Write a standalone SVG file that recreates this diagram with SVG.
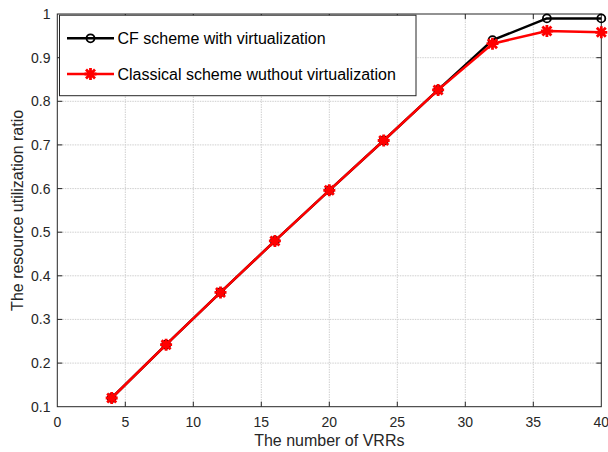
<svg xmlns="http://www.w3.org/2000/svg" xmlns:xlink="http://www.w3.org/1999/xlink" width="608" height="452" viewBox="0 0 608 452">
<style>
text{font-family:"Liberation Sans",Arial,sans-serif;fill:#262626}
.tick{font-size:14px}
.lab{font-size:16px}
.leg{font-size:16px;fill:#000}
.grid{stroke:#cfcfcf;stroke-width:1;stroke-dasharray:1.5 1}
.axis{stroke:#262626;stroke-width:1;fill:none}
.blk{stroke:#000;stroke-width:2.5;fill:none;stroke-linejoin:round}
.red{stroke:#ff0000;stroke-width:2.5;fill:none;stroke-linejoin:round}
</style>
<defs>
<g id="circ"><circle r="4" fill="none" stroke="#000" stroke-width="1.8"/></g>
<g id="star"><path d="M-6,0H6M0,-6V6M-4.5,-4.5L4.5,4.5M-4.5,4.5L4.5,-4.5" stroke="#ff0000" stroke-width="2.8" fill="none"/><circle r="3" fill="#ff0000"/></g>
</defs>
<rect width="608" height="452" fill="#fff"/>
<g id="grid">
<path class="grid" d="M125.3,14V406.7M193.3,14V406.7M261.3,14V406.7M329.3,14V406.7M397.3,14V406.7M465.3,14V406.7M533.3,14V406.7"/>
<path class="grid" d="M57.3,363.1H601.3M57.3,319.4H601.3M57.3,275.8H601.3M57.3,232.2H601.3M57.3,188.6H601.3M57.3,144.9H601.3M57.3,101.3H601.3M57.3,57.7H601.3"/>
</g>
<g id="axes">
<rect class="axis" x="57.3" y="14" width="544" height="392.7"/>
<path class="axis" d="M125.3,406.7v-5M193.3,406.7v-5M261.3,406.7v-5M329.3,406.7v-5M397.3,406.7v-5M465.3,406.7v-5M533.3,406.7v-5M125.3,14v5M193.3,14v5M261.3,14v5M329.3,14v5M397.3,14v5M465.3,14v5M533.3,14v5"/>
<path class="axis" d="M57.3,363.1h5M57.3,319.4h5M57.3,275.8h5M57.3,232.2h5M57.3,188.6h5M57.3,144.9h5M57.3,101.3h5M57.3,57.7h5M601.3,363.1h-5M601.3,319.4h-5M601.3,275.8h-5M601.3,232.2h-5M601.3,188.6h-5M601.3,144.9h-5M601.3,101.3h-5M601.3,57.7h-5"/>
</g>
<g id="xticks" text-anchor="middle">
<text class="tick" x="57.3" y="427">0</text>
<text class="tick" x="125.3" y="427">5</text>
<text class="tick" x="193.3" y="427">10</text>
<text class="tick" x="261.3" y="427">15</text>
<text class="tick" x="329.3" y="427">20</text>
<text class="tick" x="397.3" y="427">25</text>
<text class="tick" x="465.3" y="427">30</text>
<text class="tick" x="533.3" y="427">35</text>
<text class="tick" x="601.3" y="427">40</text>
</g>
<g id="yticks" text-anchor="end">
<text class="tick" x="50.5" y="411.7">0.1</text>
<text class="tick" x="50.5" y="368.1">0.2</text>
<text class="tick" x="50.5" y="324.4">0.3</text>
<text class="tick" x="50.5" y="280.8">0.4</text>
<text class="tick" x="50.5" y="237.2">0.5</text>
<text class="tick" x="50.5" y="193.6">0.6</text>
<text class="tick" x="50.5" y="149.9">0.7</text>
<text class="tick" x="50.5" y="106.3">0.8</text>
<text class="tick" x="50.5" y="62.7">0.9</text>
<text class="tick" x="50.5" y="19">1</text>
</g>
<text class="lab" x="329.3" y="446" text-anchor="middle">The number of VRRs</text>
<text class="lab" transform="translate(23,210.4) rotate(-90)" text-anchor="middle">The resource utilization ratio</text>
<g id="connectors">
<polyline id="cf-line" class="blk" points="111.7,398 166.1,344.7 220.5,292.4 274.9,240.9 329.3,190.3 383.7,140.5 438.1,89.9 492.5,40.2 546.9,18.4 601.3,18.4"/>
<g id="cf-markers">
<use xlink:href="#circ" x="111.7" y="398"/><use xlink:href="#circ" x="166.1" y="344.7"/><use xlink:href="#circ" x="220.5" y="292.4"/><use xlink:href="#circ" x="274.9" y="240.9"/><use xlink:href="#circ" x="329.3" y="190.3"/><use xlink:href="#circ" x="383.7" y="140.5"/><use xlink:href="#circ" x="438.1" y="89.9"/><use xlink:href="#circ" x="492.5" y="40.2"/><use xlink:href="#circ" x="546.9" y="18.4"/><use xlink:href="#circ" x="601.3" y="18.4"/>
</g>
<polyline id="cl-line" class="red" points="111.7,398 166.1,344.7 220.5,292.4 274.9,240.9 329.3,190.3 383.7,140.5 438.1,89.9 492.5,43.7 546.9,31 601.3,32.3"/>
<g id="cl-markers">
<use xlink:href="#star" x="111.7" y="398"/><use xlink:href="#star" x="166.1" y="344.7"/><use xlink:href="#star" x="220.5" y="292.4"/><use xlink:href="#star" x="274.9" y="240.9"/><use xlink:href="#star" x="329.3" y="190.3"/><use xlink:href="#star" x="383.7" y="140.5"/><use xlink:href="#star" x="438.1" y="89.9"/><use xlink:href="#star" x="492.5" y="43.7"/><use xlink:href="#star" x="546.9" y="31"/><use xlink:href="#star" x="601.3" y="32.3"/>
</g>
</g>
<g id="legend">
<rect x="59.5" y="15.2" width="356.5" height="80.5" fill="#fff" stroke="#262626" stroke-width="1"/>
<line x1="67" y1="38.3" x2="114" y2="38.3" class="blk"/>
<use xlink:href="#circ" x="90.5" y="38.3"/>
<text class="leg" x="117.5" y="44">CF scheme with virtualization</text>
<line x1="67" y1="74" x2="114" y2="74" class="red"/>
<use xlink:href="#star" x="90.5" y="74"/>
<text class="leg" x="117.5" y="79.7">Classical scheme wuthout virtualization</text>
</g>
</svg>
